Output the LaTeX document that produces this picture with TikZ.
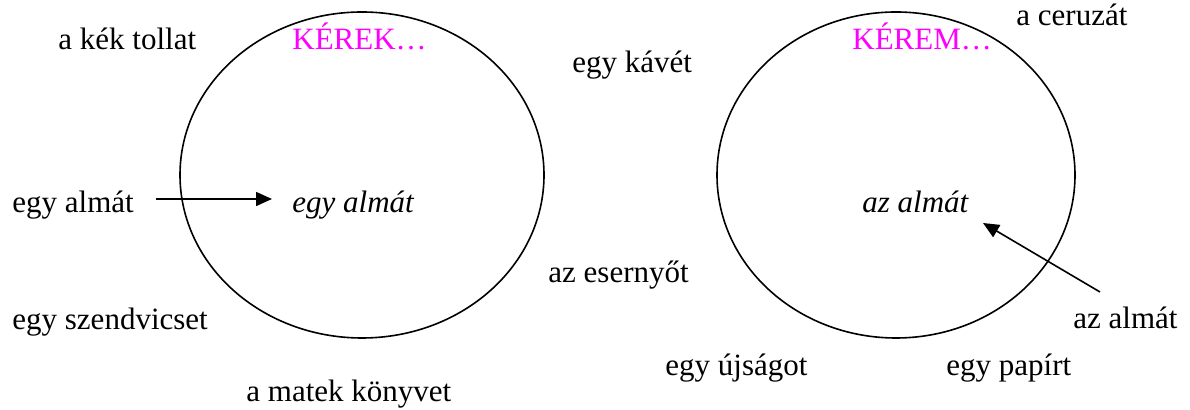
\documentclass[tikz,border=0pt]{standalone}
\usepackage{fontspec}
\setmainfont{Liberation Serif}
\usetikzlibrary{arrows.meta}
\definecolor{mag}{HTML}{FF00FF}
\begin{document}
\begin{tikzpicture}[x=0.5pt,y=-0.5pt,
  lbl/.style={anchor=base west,inner sep=0pt,font=\fontsize{15.5}{18}\selectfont},
  title/.style={lbl,text=mag},
  inner/.style={lbl,font=\fontsize{15.5}{18}\selectfont\itshape},
  ring/.style={draw=black,line width=0.8pt},
  arr/.style={draw=black,line width=0.8pt,-{Triangle[length=8pt,width=7pt]}}]
\useasboundingbox (0,0) rectangle (1190,410);
% ellipses
\coordinate (e1) at (362,175);
\coordinate (e2) at (896,175);
\draw[ring] (e1) ellipse [x radius=91pt, y radius=81.5pt];
\draw[ring] (e2) ellipse [x radius=89.5pt, y radius=81.5pt];
% left
\node[lbl] (t1) at (58,50) {a kék tollat};
\node[title] (k1) at (292,50) {KÉREK…};
\node[lbl] (a1) at (12,213) {egy almát};
\node[inner] (i1) at (292,213) {egy almát};
\node[lbl] (s1) at (12,330) {egy szendvicset};
\node[lbl] (m1) at (246,402) {a matek könyvet};
% middle
\node[lbl] (kv) at (572,73) {egy kávét};
\node[lbl] (es) at (548,283) {az esernyőt};
\node[lbl] (uj) at (665,376) {egy újságot};
% right
\node[title] (k2) at (852,50) {KÉREM…};
\node[lbl] (ce) at (1016,26) {a ceruzát};
\node[inner] (i2) at (862,213) {az almát};
\node[lbl] (a2) at (1073,329) {az almát};
\node[lbl] (pa) at (946,376) {egy papírt};
% arrows
\coordinate (p1s) at (156,199);
\coordinate (p1e) at (272,199);
\coordinate (p2s) at (1100,292);
\coordinate (p2e) at (983,223);
\draw[arr] (p1s) -- (p1e);
\draw[arr] (p2s) -- (p2e);
\end{tikzpicture}
\end{document}
